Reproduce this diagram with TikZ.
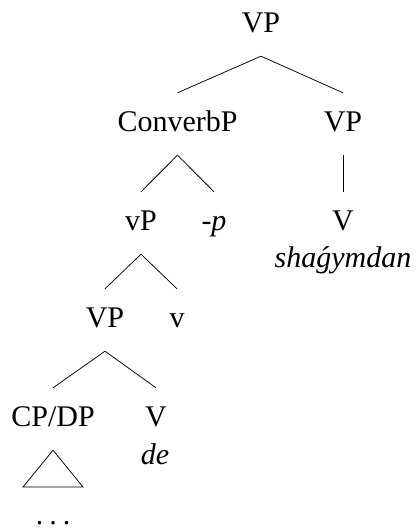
\documentclass[tikz,border=0pt]{standalone}
\usepackage{fontspec}
\setmainfont{Liberation Serif}
\begin{document}
\begin{tikzpicture}[x=1pt,y=1pt,
  lbl/.style={anchor=base,inner sep=0pt,font=\fontsize{30}{36}\selectfont},
  cat/.style={lbl,text height=39pt,text depth=23pt},
  edge/.style={line width=0.75pt}]
\useasboundingbox (0,0) rectangle (419,529);
\node[cat] (top) at (261,496) {VP};
\node[cat] (cb) at (177.5,397) {ConverbP};
\node[cat] (vpr) at (343,397) {VP};
\node[cat] (lvp) at (141,298) {vP};
\node[lbl] (p) at (214,298) {\textit{-p}};
\node[cat] (vr) at (343,298) {V};
\node[lbl] (shag) at (343,261) {\textit{shaǵymdan}};
\node[cat] (vpl) at (105,201) {VP};
\node[cat] (lv) at (177,201) {v};
\node[cat] (cpdp) at (53,102) {CP/DP};
\node[cat] (vl) at (156,102) {V};
\node[lbl] (de) at (155,64) {\textit{de}};
\node[lbl] (dots) at (53,5) {.\hspace{6pt}.\hspace{6pt}.};
\coordinate (tl) at (23,42);
\coordinate (tr) at (83,42);
\draw[edge] (top.south) -- (cb.north);
\draw[edge] (top.south) -- (vpr.north);
\draw[edge] (cb.south) -- (lvp.north);
\draw[edge] (cb.south) -- (p.north |- lvp.north);
\draw[edge] (vpr.south) -- (vr.north);
\draw[edge] (lvp.south) -- (vpl.north);
\draw[edge] (lvp.south) -- (lv.north);
\draw[edge] (vpl.south) -- (cpdp.north);
\draw[edge] (vpl.south) -- (vl.north);
\draw[edge] (cpdp.south) -- (tl) -- (tr) -- cycle;
\end{tikzpicture}
\end{document}
